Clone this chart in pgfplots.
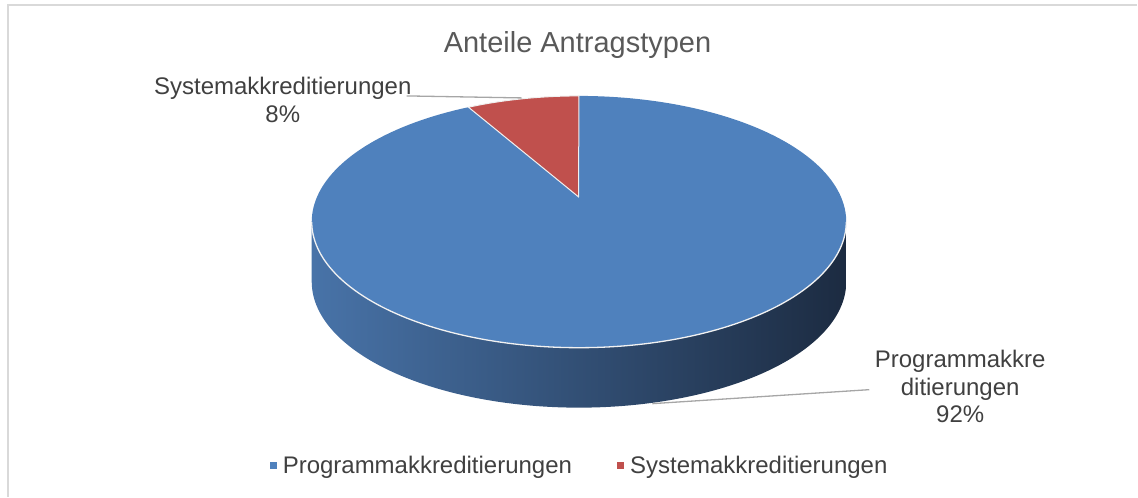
\documentclass[border=0pt]{standalone}
\usepackage{pgfplots}
\usepackage{pgfplotstable}
\pgfplotsset{compat=1.18}
\usepackage{fontspec}
\setmainfont{Liberation Sans}
\definecolor{pieblue}{HTML}{4F81BD}
\definecolor{piered}{HTML}{C0504D}
\definecolor{sideL}{HTML}{4873A8}
\definecolor{sideR}{HTML}{1C2B41}
\definecolor{txt}{HTML}{404040}
\definecolor{ttl}{HTML}{595959}
\definecolor{leader}{HTML}{A6A6A6}
\definecolor{frame}{HTML}{D9D9D9}

\pgfplotstableread[col sep=comma]{
name,value
Programmakkreditierungen,92
Systemakkreditierungen,8
}\piedata
\pgfplotstablegetelem{0}{value}\of\piedata \let\valA\pgfplotsretval
\pgfplotstablegetelem{1}{value}\of\piedata \let\valB\pgfplotsretval
\pgfmathsetmacro\angB{360*\valB/(\valA+\valB)}
% slice boundary angle, with the far side foreshortened by perspective
\pgfmathsetmacro\angEnd{atan2(1.21*sin(90+\angB),cos(90+\angB))}
\pgfmathsetmacro\angRed{\angEnd-90}

\begin{document}
\begin{tikzpicture}
\begin{axis}[
  scale only axis, width=1138pt, height=497pt,
  xmin=0, xmax=1138, ymin=0, ymax=497, y dir=reverse,
  hide axis, clip=false,
  legend style={at={(axis cs:580,466)}, anchor=center, draw=none, fill=none,
    legend columns=2, font=\fontsize{24}{27.6}\selectfont\color{txt},
    /tikz/every even column/.append style={column sep=43pt}},
  legend image code/.code={\fill[#1] (0pt,-3pt) rectangle (6pt,3pt); \path[draw=none,fill=none] (6pt,0pt) -- (11pt,0pt);},
]
% bounding area
\path (rel axis cs:0,0) rectangle (rel axis cs:1,1);
% frame (top and left visible)
\addplot[frame, line width=2pt, forget plot] coordinates {(8.5,497) (8.5,5.5) (1138,5.5)};

% side of pie (front half)
\addplot[draw=none, left color=sideL, right color=sideR, domain=0:401, samples=402, forget plot]
  ({579.5+267.5*cos(ifthenelse(x<200.5,180+0.9*x,360-0.9*(x-201)))},
   {ifthenelse(x<200.5,222,282)-126*sin(ifthenelse(x<200.5,180+0.9*x,360-0.9*(x-201)))});

% top face: blue slice
\addplot[fill=pieblue, draw=none, domain=0:201, samples=202, forget plot]
  ({ifthenelse(x>200.5,579,579.5+267.5*cos(\angEnd+(450-\angEnd)*x/200))},
   {ifthenelse(x>200.5,197,222-126*sin(\angEnd+(450-\angEnd)*x/200))});
% top face: red slice
\addplot[fill=piered, draw=white!88!gray, line width=1pt, domain=0:201, samples=202, forget plot]
  ({ifthenelse(x>200.5,579,579.5+267.5*cos(90+\angRed*x/200))},
   {ifthenelse(x>200.5,197,222-126*sin(90+\angRed*x/200))}) -- cycle;
% rim highlight
\addplot[white!90!gray, line width=1.3pt, domain=180:360, samples=120, forget plot]
  ({579.5+267.5*cos(x)},{222-126*sin(x)});

% leader lines
\addplot[leader, line width=1.3pt, forget plot] coordinates {(407,96) (522,98)};
\addplot[leader, line width=1.3pt, forget plot] coordinates {(653,404) (870,390)};

% legend
\addlegendimage{pieblue}
\addlegendentry{Programmakkreditierungen}
\addlegendimage{piered}
\addlegendentry{Systemakkreditierungen}

% title and labels
\node[ttl, font=\fontsize{29}{34}\selectfont] at (axis cs:578,45) {Anteile Antragstypen};
\node[txt, font=\fontsize{24}{27.6}\selectfont, align=center] at (axis cs:283,100)
  {Systemakkreditierungen\\8\%};
\node[txt, font=\fontsize{24}{27.6}\selectfont, align=center] at (axis cs:961,387)
  {Programmakkre\\ditierungen\\92\%};
\end{axis}
\end{tikzpicture}
\end{document}
